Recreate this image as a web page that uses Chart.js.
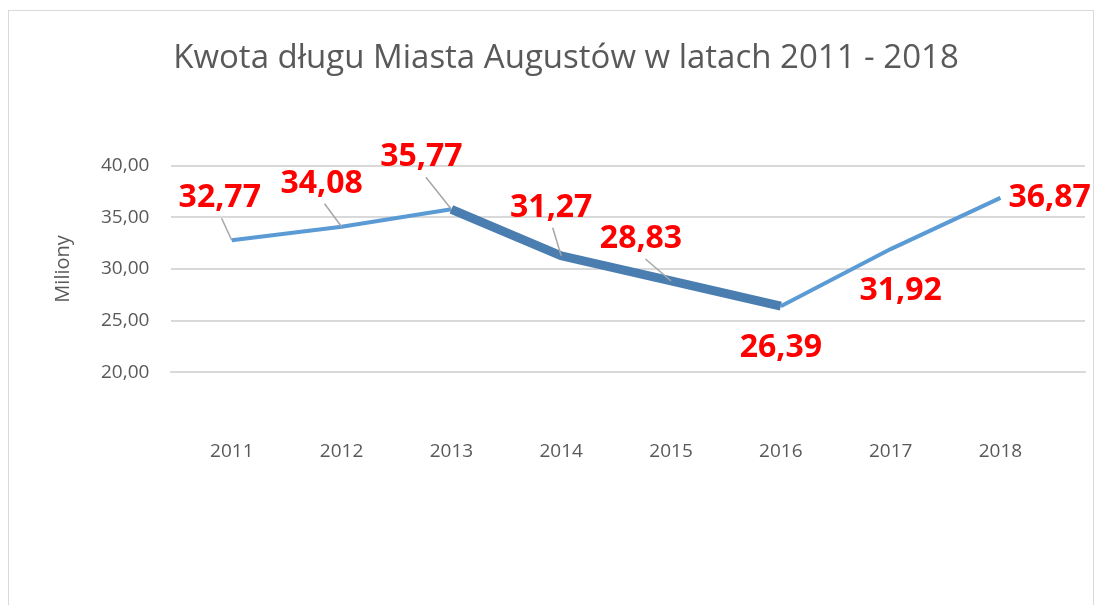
<!DOCTYPE html>
<html>
<head>
<meta charset="utf-8">
<script src="https://cdn.jsdelivr.net/npm/chart.js@4/dist/chart.umd.min.js"></script>
<style>
    html, body { margin: 0; padding: 0; background: #fff; }
    #frame {
        position: absolute; left: 8px; top: 10px; width: 1086px; height: 600px;
        border: 1px solid #d9d9d9; border-bottom: none; box-sizing: border-box;
    }
    #wrap { position: absolute; left: 0; top: 0; width: 1109px; height: 605px; }
</style>
</head>
<body>
<div id="frame"></div>
<div id="wrap"><canvas id="debtChart"></canvas></div>
<script>
const years = ["2011", "2012", "2013", "2014", "2015", "2016", "2017", "2018"];
const debt = [32.77, 34.08, 35.77, 31.27, 28.83, 26.39, 31.92, 36.87];
const yTicks = [20, 25, 30, 35, 40];

function plFormat(v) {
    return v.toFixed(2).replace('.', ',');
}

document.addEventListener('DOMContentLoaded', function() {
    const ctx = document.getElementById('debtChart').getContext('2d');

    // red value labels around each point, with grey leader lines for some
    const valueLabels = {
        id: 'valueLabels',
        afterDatasetsDraw(chart, args, opts) {
            const meta = chart.getDatasetMeta(0);
            const c = chart.ctx;
            c.save();
            c.font = 'bold 32px "Open Sans", sans-serif';
            c.textBaseline = 'middle';
            meta.data.forEach(function(pt, i) {
                const off = opts.offsets[i];
                const x = pt.x + off[0], y = pt.y + off[1];
                c.textAlign = off[2] || 'center';
                if (opts.leader[i]) {
                    c.strokeStyle = '#a6a6a6';
                    c.lineWidth = 1.5;
                    c.beginPath();
                    c.moveTo(pt.x, pt.y);
                    c.lineTo(x + off[0] * -0.15, y + 20 * Math.sign(pt.y - y));
                    c.stroke();
                }
                c.fillStyle = '#ff0000';
                c.fillText(plFormat(debt[i]), x, y);
            });
            c.restore();
        }
    };

    const points = debt.map(function(v, i) { return { x: i, y: v }; });

    const config = {
        type: 'line',
        data: {
            datasets: [{
                label: 'Kwota długu',
                data: points,
                borderColor: '#5b9bd5',
                backgroundColor: '#5b9bd5',
                borderWidth: 4,
                pointRadius: 0,
                tension: 0,
                segment: {
                    borderColor: function(s) { return s.p1.parsed.y < s.p0.parsed.y ? '#4a7db0' : '#5b9bd5'; },
                    borderWidth: function(s) { return s.p1.parsed.y < s.p0.parsed.y ? 9 : 4; }
                }
            }]
        },
        options: {
            responsive: true,
            maintainAspectRatio: false,
            animation: false,
            layout: { padding: { left: 47, right: 24, top: 0, bottom: 82 } },
            plugins: {
                legend: { display: false },
                tooltip: { enabled: false },
                title: {
                    display: true,
                    text: 'Kwota długu Miasta Augustów w latach 2011 - 2018',
                    color: '#595959',
                    font: { family: '"Open Sans", sans-serif', size: 33, weight: 'normal' },
                    padding: { top: 39, bottom: 87 }
                },
                valueLabels: {
                    // [dx, dy, align] relative to the point
                    offsets: [[-12, -42], [-20, -43], [-30, -52], [-10, -48], [-30, -42],
                              [0, 42], [10, 42], [8, 0, 'left']],
                    leader: [true, true, true, true, true, false, false, false]
                }
            },
            scales: {
                x: {
                    type: 'linear',
                    min: -0.55,
                    max: 7.77,
                    afterBuildTicks: function(axis) {
                        axis.ticks = years.map(function(y, i) { return { value: i }; });
                    },
                    grid: { display: false },
                    border: { color: '#d9d9d9', width: 2 },
                    ticks: {
                        color: '#595959',
                        font: { family: '"Open Sans", sans-serif', size: 19 },
                        padding: 60,
                        callback: function(v) { return years[v]; }
                    }
                },
                y: {
                    min: 20,
                    max: 40,
                    afterBuildTicks: function(axis) {
                        axis.ticks = yTicks.map(function(v) { return { value: v }; });
                    },
                    grid: { color: '#d9d9d9', lineWidth: 2, drawTicks: false },
                    border: { display: false },
                    title: {
                        display: true,
                        text: 'Miliony',
                        color: '#595959',
                        font: { family: '"Open Sans", sans-serif', size: 20 }
                    },
                    ticks: {
                        color: '#595959',
                        font: { family: '"Open Sans", sans-serif', size: 19 },
                        padding: 22,
                        callback: function(v) { return plFormat(v); }
                    }
                }
            }
        },
        plugins: [valueLabels]
    };

    const debtChart = new Chart(ctx, config);
});
</script>
</body>
</html>
